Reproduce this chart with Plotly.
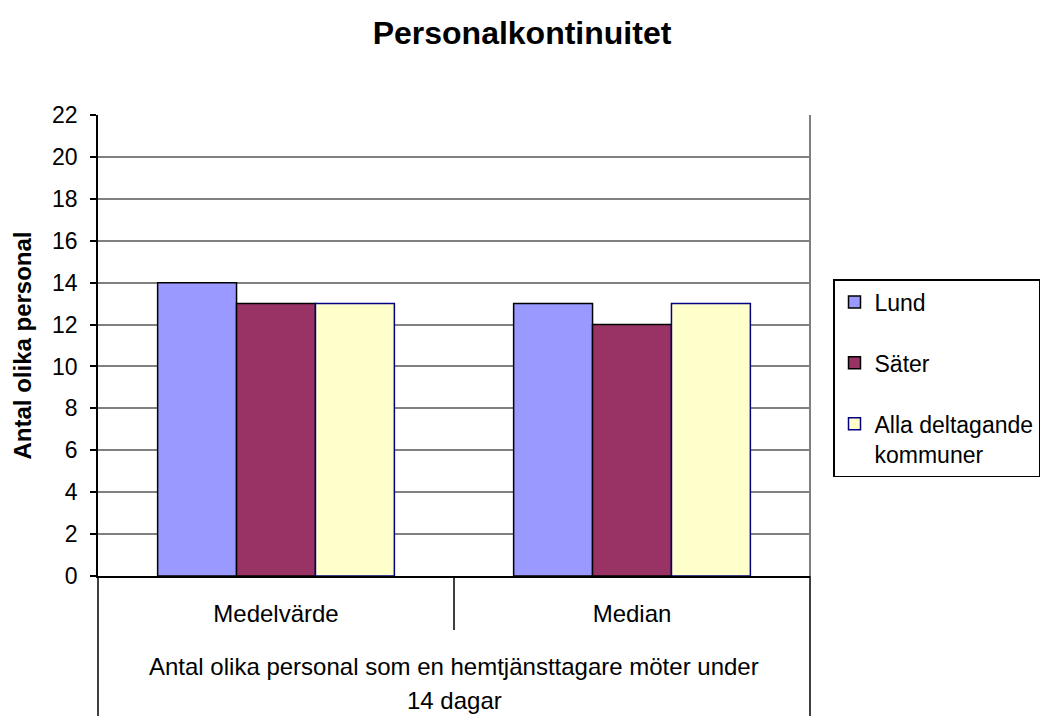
import plotly.graph_objects as go

# ─── Data ────────────────────────────────────────────────────────────
categories = ["Medelvärde", "Median"]
lund = [14, 13]
sater = [13, 12]
alla = [13, 13]
series_names = ["Lund", "Säter", "Alla deltagande<br>kommuner"]
group_lines = ["Antal olika personal som en hemtjänsttagare möter under", "14 dagar"]
y_ticks = list(range(0, 23, 2))

FONT = "Liberation Sans, Arial, sans-serif"
COLORS = ["#9999FF", "#993366", "#FFFFCC"]
EDGES = ["#000000", "#000000", "#000080"]

W, H = 1050, 716
OFF = 8  # page body margin shifts the figure by 8px
L, T, R, B = 98 - OFF, 115 - OFF, W - (810 - OFF), H - (576 - OFF)
PH = 576 - 115  # plot height in px

fig = go.Figure()
for i, vals in enumerate([lund, sater, alla]):
    fig.add_trace(
        go.Bar(
            x=categories,
            y=vals,
            name=series_names[i],
            legendgroup=f"g{i}",
            marker=dict(color=COLORS[i], line=dict(color=EDGES[i], width=1.5)),
        )
    )

# lines of the multi-level category axis below the plot
bottom = -(716 - 576) / PH
fig.add_shape(type="line", xref="paper", yref="paper", x0=0, x1=0, y0=0, y1=bottom,
              line=dict(color="#000000", width=1.5))
fig.add_shape(type="line", xref="paper", yref="paper", x0=0.5, x1=0.5, y0=0, y1=-54 / PH,
              line=dict(color="#000000", width=1.5))
fig.add_shape(type="line", xref="paper", yref="paper", x0=1, x1=1, y0=0, y1=bottom,
              line=dict(color="#000000", width=1.5))
# grey plot-area border on the right
fig.add_shape(type="line", xref="paper", yref="paper", x0=1, x1=1, y0=0, y1=1,
              line=dict(color="#808080", width=2))

for line, ypix in zip(group_lines, [666, 700]):
    fig.add_annotation(
        text=line, xref="paper", yref="paper", x=0.5, y=(576 - ypix) / PH,
        xanchor="center", yanchor="middle", showarrow=False,
        font=dict(family=FONT, size=24, color="#000000"),
    )

fig.update_layout(
    width=W,
    height=H,
    paper_bgcolor="white",
    plot_bgcolor="white",
    font=dict(family=FONT, size=23, color="#000000"),
    margin=dict(l=L, r=R, t=T, b=B, autoexpand=False),
    bargap=0.335,
    bargroupgap=0,
    title=dict(
        text="<b>Personalkontinuitet</b>",
        x=(522 - OFF) / W, xref="container", xanchor="center",
        y=1 - (33 - OFF) / H, yref="container", yanchor="middle",
        font=dict(family=FONT, size=32, color="#000000"),
    ),
    legend=dict(
        xref="container", yref="container",
        x=(833 - OFF) / W, xanchor="left", y=1 - (279 - OFF) / H, yanchor="top",
        bordercolor="#000000", borderwidth=1.5, bgcolor="white",
        font=dict(family=FONT, size=23, color="#000000"),
        tracegroupgap=28, valign="top", traceorder="grouped",
    ),
    xaxis=dict(
        showline=True, linecolor="#000000", linewidth=1.5,
        ticks="", ticklabelstandoff=15,
        tickfont=dict(family=FONT, size=24),
        showgrid=False, fixedrange=True,
    ),
    yaxis=dict(
        range=[0, 22], tickvals=y_ticks,
        showline=True, linecolor="#000000", linewidth=1.5,
        ticks="outside", ticklen=6, tickcolor="#000000", tickwidth=1.5,
        ticklabelstandoff=8,
        showgrid=True, gridcolor="#808080", gridwidth=1.5,
        zeroline=False,
        title=dict(text="<b>Antal olika personal</b>", standoff=14,
                   font=dict(family=FONT, size=24)),
        tickfont=dict(family=FONT, size=23),
    ),
)

fig.write_html("out.html")
